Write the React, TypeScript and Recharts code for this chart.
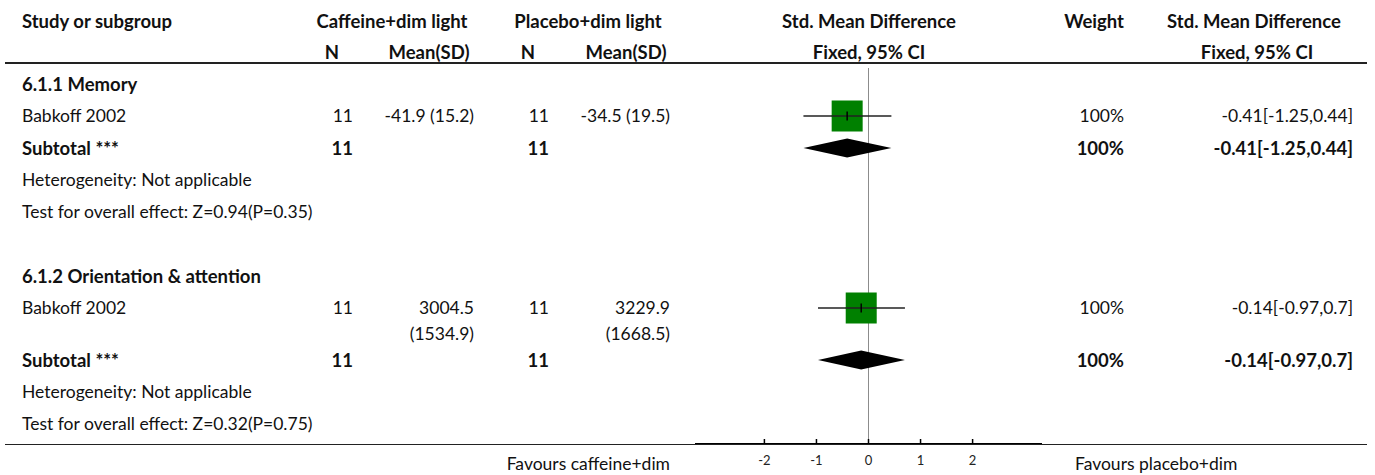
import React from "react";
import { ComposedChart, Scatter, XAxis, YAxis, ReferenceLine } from "recharts";

const W = 1375;
const H = 475;
const FONT = "Lato, 'Noto Sans', sans-serif";

// forest plot data, one entry per subgroup
const subgroups = ["6.1.1 Memory", "6.1.2 Orientation & attention"];
const studies = ["Babkoff 2002", "Babkoff 2002"];
const caffeineN = [11, 11];
const caffeineMean = [-41.9, 3004.5];
const caffeineSD = [15.2, 1534.9];
const placeboN = [11, 11];
const placeboMean = [-34.5, 3229.9];
const placeboSD = [19.5, 1668.5];
const smd = [-0.41, -0.14];
const ciLow = [-1.25, -0.97];
const ciHigh = [0.44, 0.7];
const weights = [100, 100];
const heterogeneity = ["Not applicable", "Not applicable"];
const overallZ = [0.94, 0.32];
const overallP = [0.35, 0.75];
const xTicks = [-2, -1, 0, 1, 2];

// layout
const ROW = 32;
const TOP = 68;
const AXIS_Y = 444;
const studyRowHeights = [32, 52];

const groups = (() => {
  let y = TOP;
  return subgroups.map((_, i) => {
    const title = y + ROW / 2;
    y += ROW;
    const study = y + ROW / 2;
    y += studyRowHeights[i];
    const subtotal = y + ROW / 2;
    y += ROW;
    const het = y + ROW / 2;
    y += ROW;
    const test = y + ROW / 2;
    y += ROW * 2;
    return { title, study, subtotal, het, test };
  });
})();

const studyPoints = subgroups.map((_, i) => ({ x: smd[i], y: groups[i].study, w: weights[i] }));

type TxtProps = {
  x: number;
  y: number;
  align?: "left" | "right" | "center";
  bold?: boolean;
  width?: number;
  children: React.ReactNode;
};

function Txt({ x, y, align = "left", bold, width, children }: TxtProps) {
  const shift = align === "left" ? "0" : align === "right" ? "-100%" : "-50%";
  const style: React.CSSProperties = {
    position: "absolute",
    top: y - 13,
    lineHeight: "26px",
    fontSize: bold ? 18.5 : 17.5,
    fontWeight: bold ? 700 : 400,
    color: "#111",
    textAlign: align,
    whiteSpace: width ? "normal" : "nowrap",
  };
  if (width) {
    style.left = align === "right" ? x - width : x;
    style.width = width;
  } else {
    style.left = x;
    style.transform = `translateX(${shift})`;
  }
  return <div style={style}>{children}</div>;
}

function StudyMark(props: any) {
  const { cx, cy, payload } = props;
  const s = 31 * Math.sqrt(payload.w / 100);
  return (
    <g>
      <rect x={cx - s / 2} y={cy - s / 2} width={s} height={s} fill="#008000" />
      <line x1={cx - s / 2} x2={cx + s / 2} y1={cy} y2={cy} stroke="#222" strokeWidth={1.5} />
      <line x1={cx} x2={cx} y1={cy - 4.5} y2={cy + 4.5} stroke="#000" strokeWidth={1.5} />
    </g>
  );
}

function AxisTick(props: any) {
  const { x, y, payload } = props;
  return (
    <g>
      <line x1={x} x2={x} y1={y - 5} y2={y} stroke="#000" strokeWidth={1.5} />
      <text x={x} y={y + 21} textAnchor="middle" fontSize={13} fill="#222" fontFamily={FONT}>
        {payload.value}
      </text>
    </g>
  );
}

const fmtCI = (i: number) => `${smd[i]}[${ciLow[i]},${ciHigh[i]}]`;

export default function App() {
  return (
    <div style={{ position: "relative", width: W, height: H, fontFamily: FONT, background: "#fff" }}>
      <style>{"body{margin:0}"}</style>
      <div style={{ position: "absolute", left: 0, top: 0 }}>
        <ComposedChart width={W} height={H} margin={{ top: TOP, right: 333, bottom: 1, left: 695 }}>
          <XAxis
            type="number"
            dataKey="x"
            domain={[-10 / 3, 10 / 3]}
            ticks={xTicks}
            height={H - 1 - AXIS_Y}
            axisLine={{ stroke: "#000", strokeWidth: 2 }}
            tickLine={false}
            tickSize={0}
            tickMargin={0}
            tick={<AxisTick />}
            allowDataOverflow
          />
          <YAxis type="number" dataKey="y" domain={[TOP, AXIS_Y]} reversed hide />
          <ReferenceLine x={0} stroke="#8c8c8c" strokeWidth={1} />
          {subgroups.map((_, i) => (
            <ReferenceLine
              key={`ci-${i}`}
              segment={[
                { x: ciLow[i], y: groups[i].study },
                { x: ciHigh[i], y: groups[i].study },
              ]}
              stroke="#222"
              strokeWidth={1.5}
            />
          ))}
          <Scatter data={studyPoints} shape={<StudyMark />} isAnimationActive={false} />
          {subgroups.map((_, i) => {
            const r = (smd[i] - ciLow[i]) / (ciHigh[i] - ciLow[i]);
            return (
              <ReferenceLine
                key={`dia-${i}`}
                segment={[
                  { x: ciLow[i], y: groups[i].subtotal },
                  { x: ciHigh[i], y: groups[i].subtotal },
                ]}
                shape={(p: any) => {
                  const mx = p.x1 + (p.x2 - p.x1) * r;
                  return (
                    <polygon
                      points={`${p.x1},${p.y1} ${mx},${p.y1 - 9.5} ${p.x2},${p.y2} ${mx},${p.y1 + 9.5}`}
                      fill="#000"
                    />
                  );
                }}
              />
            );
          })}
        </ComposedChart>
      </div>

      {/* table rules */}
      <div style={{ position: "absolute", left: 5, top: 62, width: 1362, height: 2, background: "#222" }} />
      <div style={{ position: "absolute", left: 5, top: AXIS_Y, width: 1362, height: 1, background: "#222" }} />

      {/* header */}
      <Txt x={22} y={21} bold>Study or subgroup</Txt>
      <Txt x={392} y={21} align="center" bold>Caffeine+dim light</Txt>
      <Txt x={588} y={21} align="center" bold>Placebo+dim light</Txt>
      <Txt x={869} y={21} align="center" bold>Std. Mean Difference</Txt>
      <Txt x={1124} y={21} align="right" bold>Weight</Txt>
      <Txt x={1254} y={21} align="center" bold>Std. Mean Difference</Txt>
      <Txt x={332} y={52} align="center" bold>N</Txt>
      <Txt x={429} y={52} align="center" bold>Mean(SD)</Txt>
      <Txt x={528} y={52} align="center" bold>N</Txt>
      <Txt x={626} y={52} align="center" bold>Mean(SD)</Txt>
      <Txt x={869} y={52} align="center" bold>Fixed, 95% CI</Txt>
      <Txt x={1257} y={52} align="center" bold>Fixed, 95% CI</Txt>

      {subgroups.map((name, i) => {
        const g = groups[i];
        return (
          <React.Fragment key={name}>
            <Txt x={22} y={g.title} bold>{name}</Txt>
            <Txt x={22} y={g.study}>{studies[i]}</Txt>
            <Txt x={353} y={g.study} align="right">{caffeineN[i]}</Txt>
            <Txt x={474} y={g.study} align="right" width={98}>{`${caffeineMean[i]} (${caffeineSD[i]})`}</Txt>
            <Txt x={549} y={g.study} align="right">{placeboN[i]}</Txt>
            <Txt x={670} y={g.study} align="right" width={98}>{`${placeboMean[i]} (${placeboSD[i]})`}</Txt>
            <Txt x={1124} y={g.study} align="right">{`${weights[i]}%`}</Txt>
            <Txt x={1353} y={g.study} align="right">{fmtCI(i)}</Txt>
            <Txt x={22} y={g.subtotal} bold>Subtotal ***</Txt>
            <Txt x={353} y={g.subtotal} align="right" bold>{caffeineN[i]}</Txt>
            <Txt x={549} y={g.subtotal} align="right" bold>{placeboN[i]}</Txt>
            <Txt x={1124} y={g.subtotal} align="right" bold>{`${weights[i]}%`}</Txt>
            <Txt x={1353} y={g.subtotal} align="right" bold>{fmtCI(i)}</Txt>
            <Txt x={22} y={g.het}>{`Heterogeneity: ${heterogeneity[i]}`}</Txt>
            <Txt x={22} y={g.test}>{`Test for overall effect: Z=${overallZ[i]}(P=${overallP[i]})`}</Txt>
          </React.Fragment>
        );
      })}

      <Txt x={670} y={464} align="right">Favours caffeine+dim</Txt>
      <Txt x={1075} y={464}>Favours placebo+dim</Txt>
    </div>
  );
}
